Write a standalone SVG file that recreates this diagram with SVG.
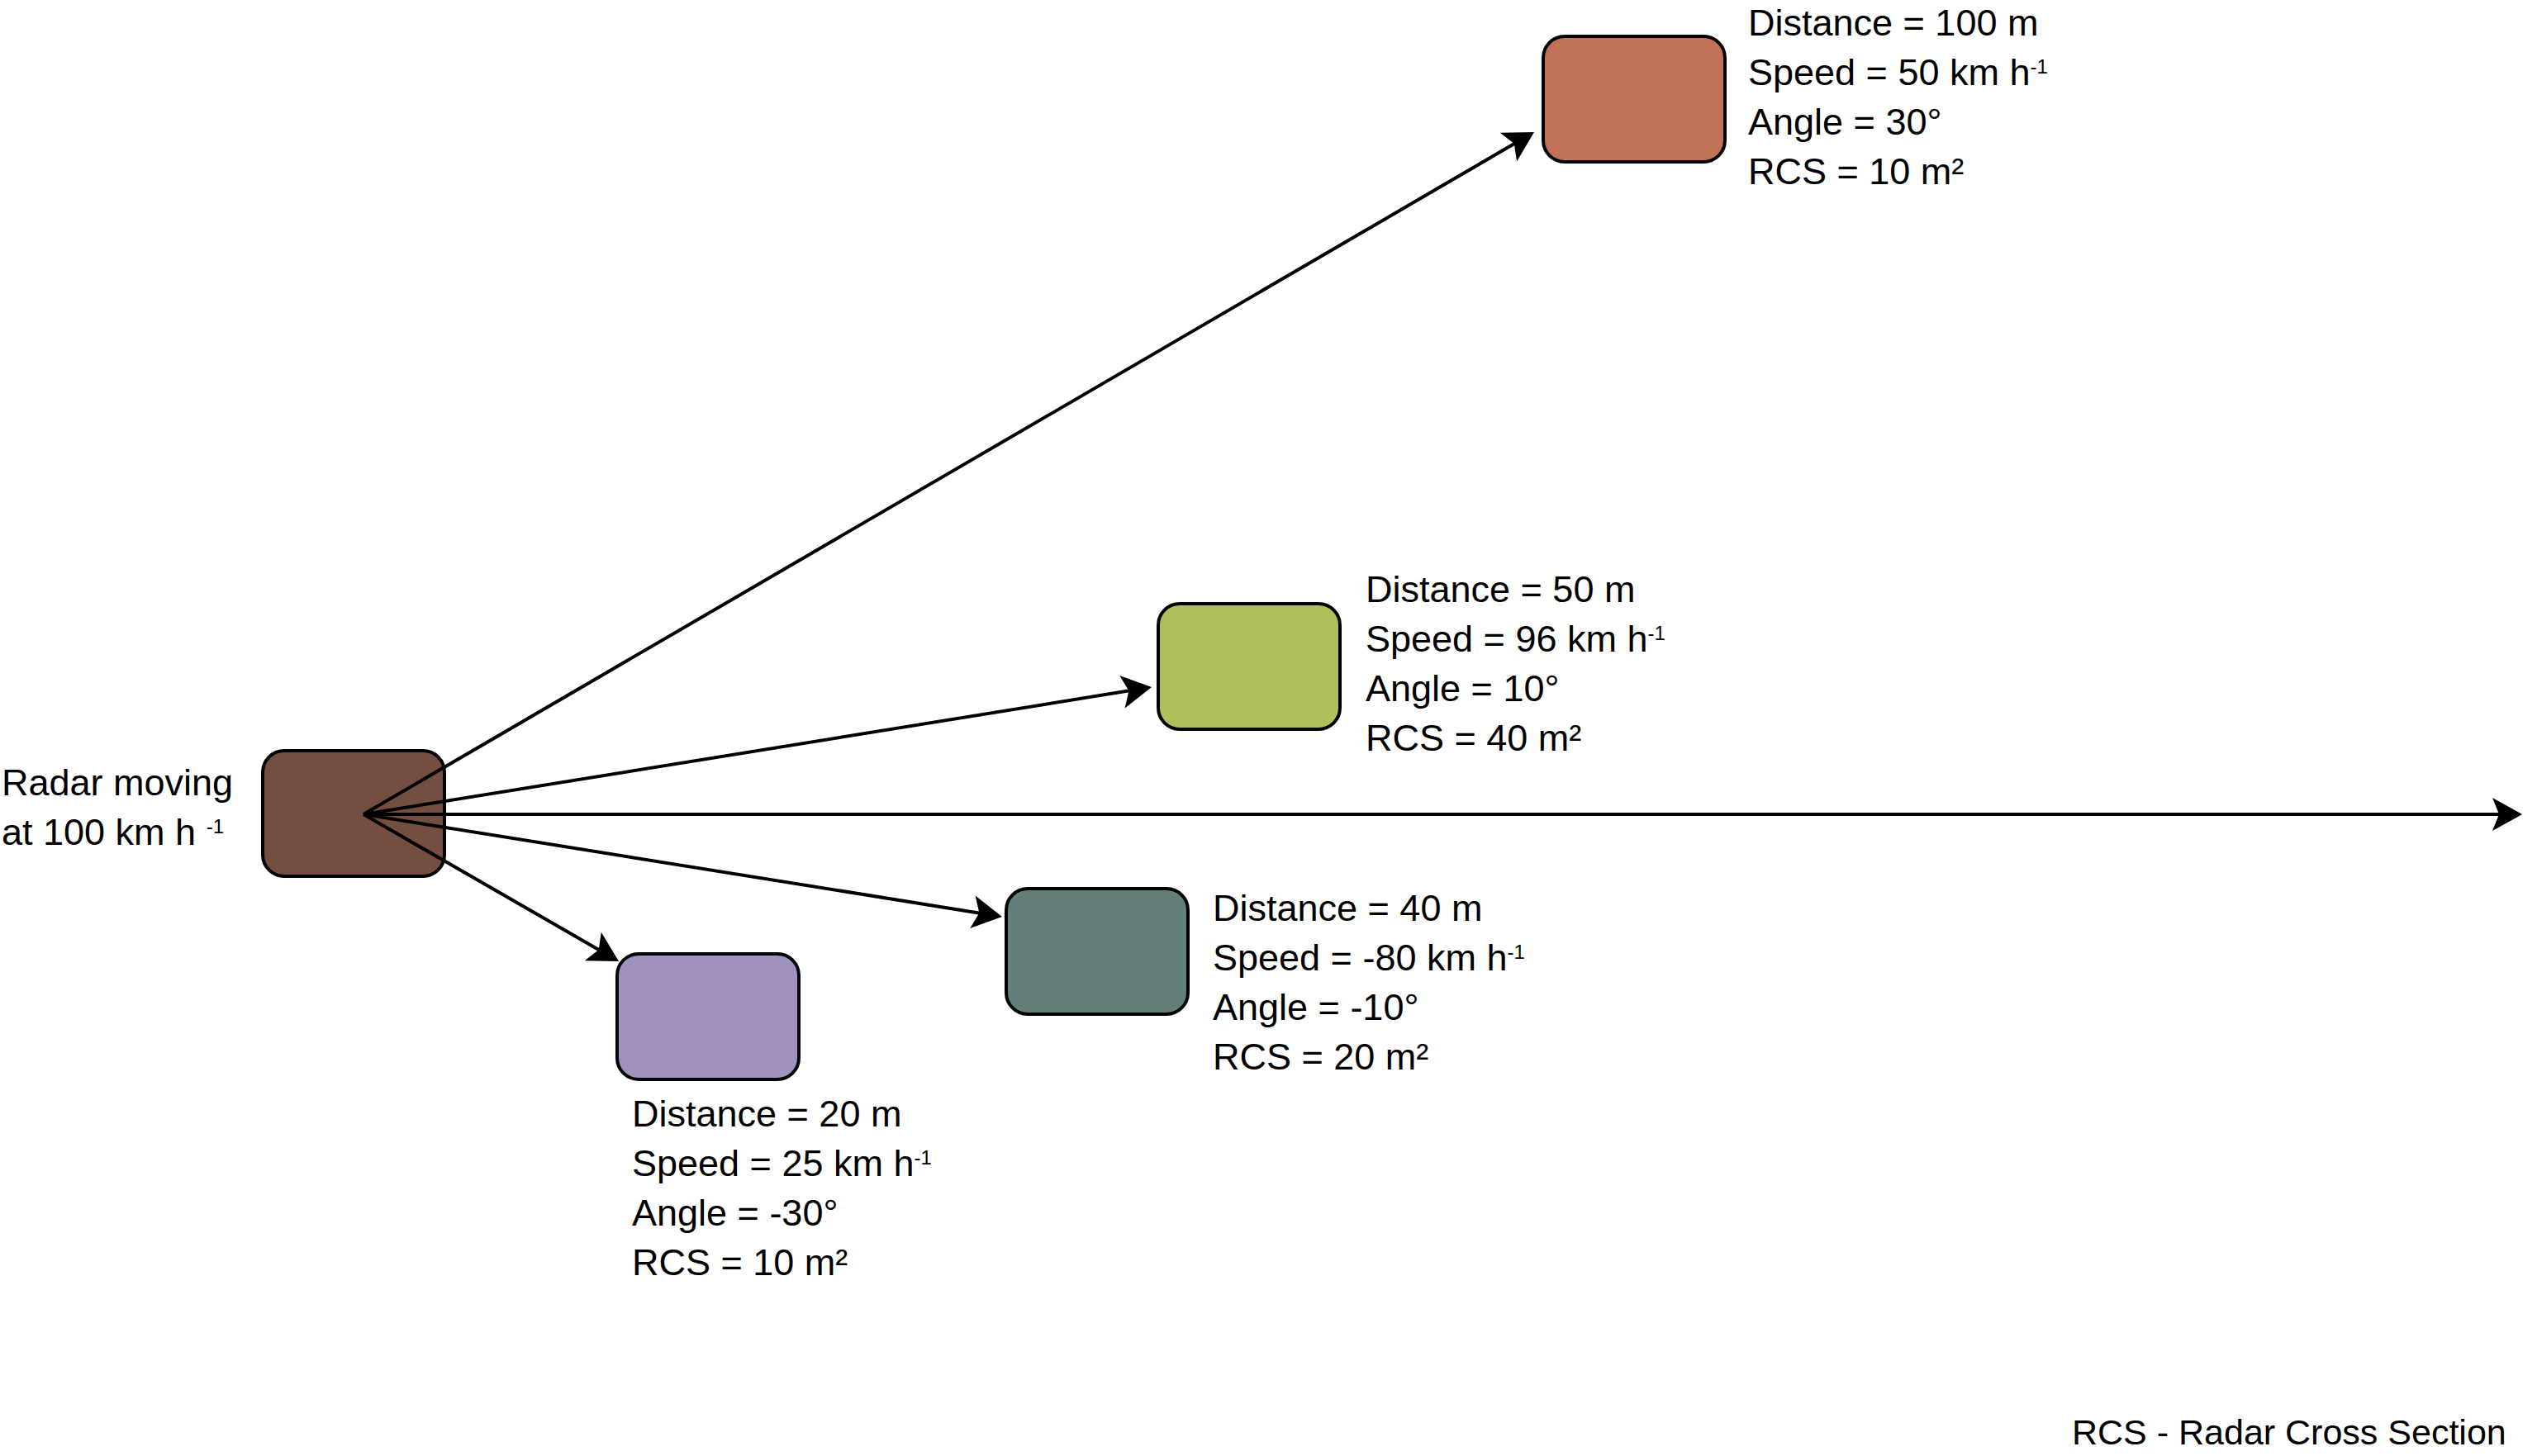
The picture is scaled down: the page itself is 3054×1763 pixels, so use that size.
<svg xmlns="http://www.w3.org/2000/svg" width="3054" height="1763" viewBox="0 0 3054 1763">
<style>
  .box { stroke: #000; stroke-width: 4; }
  .lbl { font-family: "Liberation Sans", Arial, sans-serif; font-size: 45px; fill: #000; }
  .foot { font-family: "Liberation Sans", Arial, sans-serif; font-size: 43px; fill: #000; }
  .sup { font-size: 24px; }
  .conn { stroke: #000; stroke-width: 4; fill: none; marker-end: url(#arr); }
</style>
<defs>
  <marker id="arr" markerUnits="userSpaceOnUse" viewBox="-15 -22 42 44" markerWidth="42" markerHeight="44" refX="0" refY="0" orient="auto" overflow="visible">
    <path d="M24,0 L-12,-20 L-4,0 L-12,20 Z" fill="#000"/>
  </marker>
</defs>
<rect width="3054" height="1763" fill="#fff"/>

<g id="radar">
  <rect class="box" x="318" y="909" width="220" height="152" rx="26" fill="#734E41"/>
  <text class="lbl" x="2" y="963">Radar moving</text>
  <text class="lbl" x="2" y="1023">at 100 km h <tspan class="sup" dy="-14">-1</tspan></text>
</g>

<g id="connectors">
  <line class="conn" x1="440" y1="986" x2="1836.3" y2="172.1"/>
  <line class="conn" x1="440" y1="986" x2="1370.3" y2="835.8"/>
  <line class="conn" x1="440" y1="986" x2="3029" y2="986"/>
  <line class="conn" x1="440" y1="986" x2="1189.3" y2="1106.2"/>
  <line class="conn" x1="440" y1="986" x2="728.2" y2="1152"/>
</g>

<g id="target-100m">
  <rect class="box" x="1868" y="44" width="220" height="152" rx="26" fill="#C07359"/>
  <text class="lbl" x="2116" y="43">Distance = 100 m</text>
  <text class="lbl" x="2116" y="103">Speed = 50 km h<tspan class="sup" dy="-14">-1</tspan></text>
  <text class="lbl" x="2116" y="163">Angle = 30°</text>
  <text class="lbl" x="2116" y="223">RCS = 10 m²</text>
</g>

<g id="target-50m">
  <rect class="box" x="1402" y="731" width="220" height="152" rx="26" fill="#B0BF5A"/>
  <text class="lbl" x="1653" y="729">Distance = 50 m</text>
  <text class="lbl" x="1653" y="789">Speed = 96 km h<tspan class="sup" dy="-14">-1</tspan></text>
  <text class="lbl" x="1653" y="849">Angle = 10°</text>
  <text class="lbl" x="1653" y="909">RCS = 40 m²</text>
</g>

<g id="target-40m">
  <rect class="box" x="1218" y="1076" width="220" height="152" rx="26" fill="#627F7C"/>
  <text class="lbl" x="1468" y="1115">Distance = 40 m</text>
  <text class="lbl" x="1468" y="1175">Speed = -80 km h<tspan class="sup" dy="-14">-1</tspan></text>
  <text class="lbl" x="1468" y="1235">Angle = -10°</text>
  <text class="lbl" x="1468" y="1295">RCS = 20 m²</text>
</g>

<g id="target-20m">
  <rect class="box" x="747" y="1155" width="220" height="152" rx="26" fill="#A191C0"/>
  <text class="lbl" x="765" y="1364">Distance = 20 m</text>
  <text class="lbl" x="765" y="1424">Speed = 25 km h<tspan class="sup" dy="-14">-1</tspan></text>
  <text class="lbl" x="765" y="1484">Angle = -30°</text>
  <text class="lbl" x="765" y="1544">RCS = 10 m²</text>
</g>

<g id="legend">
  <text class="foot" x="2508" y="1749">RCS - Radar Cross Section</text>
</g>
</svg>
